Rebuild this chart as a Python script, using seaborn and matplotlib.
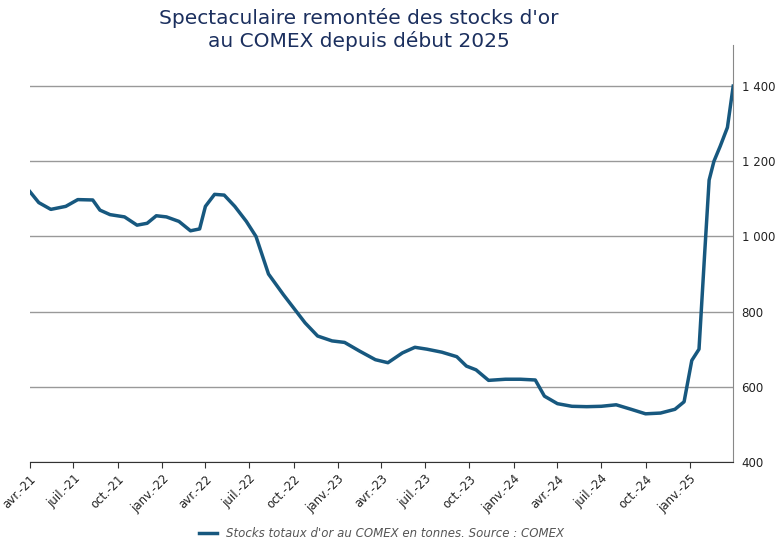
import matplotlib
matplotlib.use("Agg")
import matplotlib.pyplot as plt
import seaborn as sns
import pandas as pd

dates = ["2021-04-01", "2021-04-20", "2021-05-15", "2021-06-15", "2021-07-10", "2021-08-10", "2021-08-25",
         "2021-09-15", "2021-10-15", "2021-11-10", "2021-12-01", "2021-12-20", "2022-01-10", "2022-02-05",
         "2022-03-01", "2022-03-20", "2022-04-01", "2022-04-20", "2022-05-10", "2022-06-01", "2022-06-25",
         "2022-07-15", "2022-08-10", "2022-09-10", "2022-10-01", "2022-10-25", "2022-11-20", "2022-12-20",
         "2023-01-15", "2023-02-15", "2023-03-20", "2023-04-15", "2023-05-15", "2023-06-10", "2023-07-05",
         "2023-08-05", "2023-09-05", "2023-09-25", "2023-10-15", "2023-11-10", "2023-12-15", "2024-01-15",
         "2024-02-15", "2024-03-05", "2024-04-01", "2024-05-01", "2024-06-01", "2024-07-01", "2024-08-01",
         "2024-09-01", "2024-10-01", "2024-11-01", "2024-12-01", "2024-12-20", "2025-01-05", "2025-01-20",
         "2025-02-01", "2025-02-10", "2025-02-20", "2025-03-05", "2025-03-20", "2025-04-01"]
stocks = [1120, 1090, 1072, 1080, 1098, 1097, 1070,
          1058, 1052, 1030, 1035, 1055, 1052, 1040,
          1015, 1020, 1080, 1112, 1110, 1080, 1040,
          1000, 900, 845, 810, 770, 735, 722,
          718, 695, 672, 664, 690, 705, 700,
          692, 680, 655, 645, 617, 620, 620,
          618, 575, 555, 548, 547, 548, 552,
          540, 528, 530, 540, 560, 670, 700,
          960, 1150, 1200, 1240, 1290, 1400]

df = pd.DataFrame({"date": pd.to_datetime(dates), "stocks": stocks})

navy = "#1b2f5e"
line_col = "#17587f"

fig = plt.figure(figsize=(7.8, 5.46), dpi=100)
ax = fig.add_axes([0.038, 0.154, 0.902, 0.764])
sns.lineplot(data=df, x="date", y="stocks", ax=ax, color=line_col, linewidth=2.5,
             label="Stocks totaux d'or au COMEX en tonnes. Source : COMEX")

ax.set_xlim(pd.Timestamp("2021-04-01"), pd.Timestamp("2025-04-01"))
ax.set_ylim(400, 1510)
ax.yaxis.tick_right()
ax.set_yticks([400, 600, 800, 1000, 1200, 1400])
ax.set_yticklabels(["400", "600", "800", "1 000", "1 200", "1 400"], fontsize=8.5, color="#222222")
ax.grid(axis="y", color="#999999", linewidth=1)
ax.set_axisbelow(True)

months = ["janv.", "févr.", "mars", "avr.", "mai", "juin", "juil.", "août", "sept.", "oct.", "nov.", "déc."]
ticks = pd.date_range("2021-04-01", "2025-01-01", freq="3MS")
ax.set_xticks(ticks)
ax.set_xticklabels([f"{months[t.month - 1]}-{t.strftime('%y')}" for t in ticks],
                   rotation=45, ha="right", rotation_mode="anchor", fontsize=8.5, color="#222222")
ax.tick_params(axis="x", length=4, color="#333333")
ax.tick_params(axis="y", length=0, pad=6)

for s in ["top", "left"]:
    ax.spines[s].set_visible(False)
ax.spines["right"].set_color("#888888")
ax.spines["bottom"].set_color("#333333")
ax.set_xlabel("")
ax.set_ylabel("")

ax.legend(loc="upper center", bbox_to_anchor=(0.5, -0.13), frameon=False,
          prop={"style": "italic", "size": 8.5}, labelcolor="#555555", handlelength=1.5)

fig.suptitle("Spectaculaire remontée des stocks d'or\nau COMEX depuis début 2025",
             x=0.46, y=0.985, fontsize=14.5, color=navy, linespacing=1.2)

fig.savefig("out.png", dpi=100)
